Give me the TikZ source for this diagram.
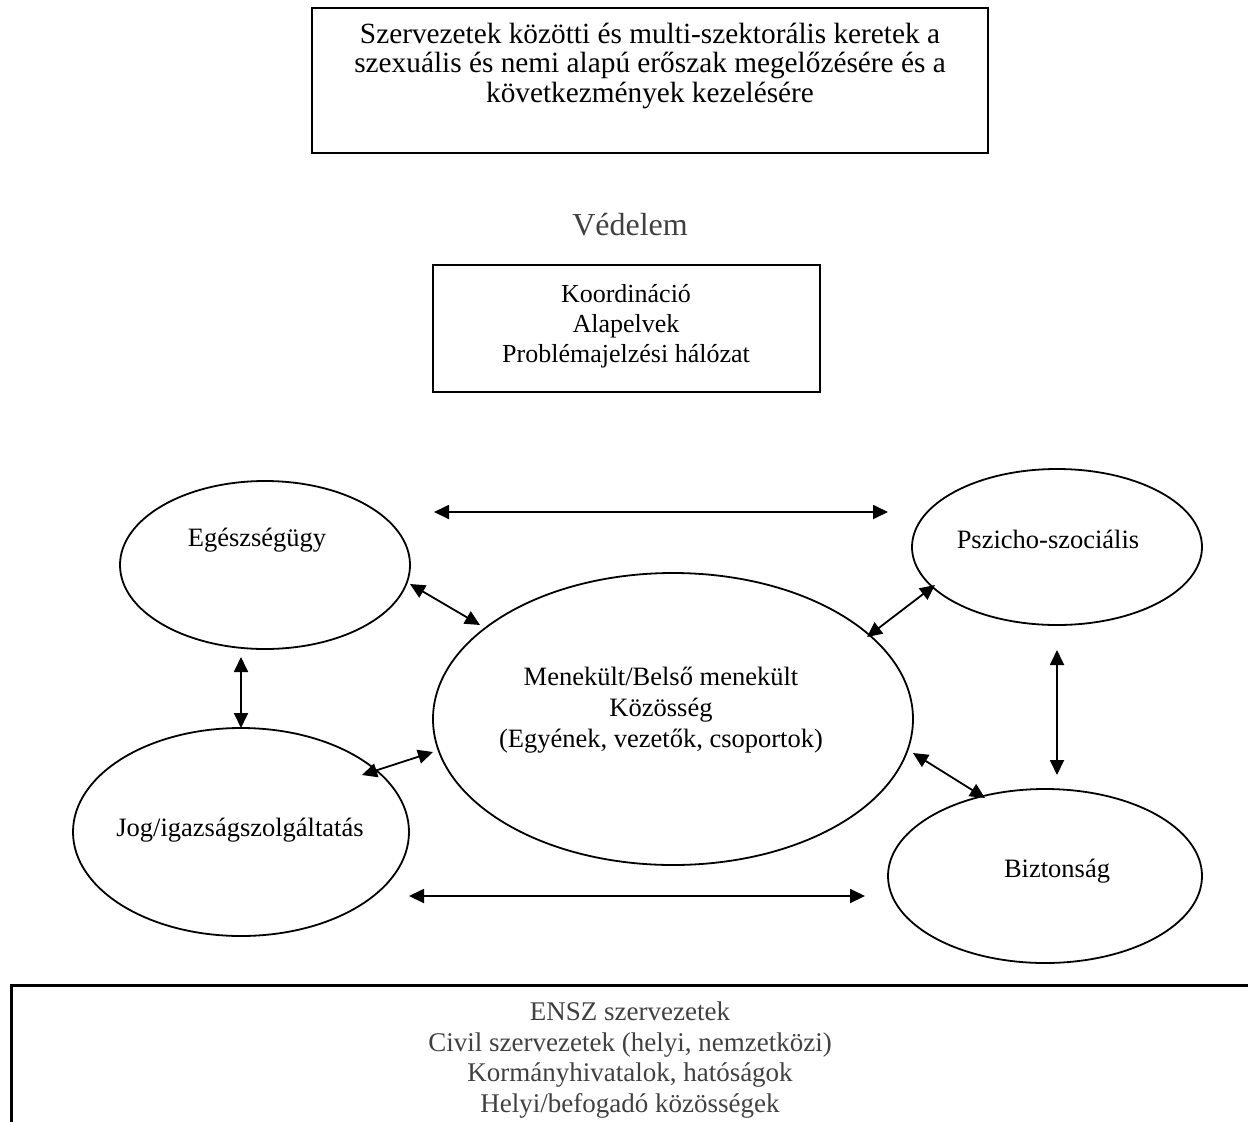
\documentclass[tikz,border=0pt]{standalone}
\usepackage{fontspec}
\setmainfont{Liberation Serif}
\usetikzlibrary{arrows.meta,shapes.geometric}
\definecolor{txtgray}{gray}{0.25}
\begin{document}
\begin{tikzpicture}[x=1pt,y=-1pt,
  box/.style={draw,line width=2pt,inner sep=0pt},
  oval/.style={draw,ellipse,line width=1.8pt,inner sep=0pt},
  lbl/.style={font=\fontsize{26.5}{31}\selectfont,align=center,anchor=base,inner sep=0pt},
  dbl/.style={{Triangle[length=15pt,width=14pt]}-{Triangle[length=15pt,width=14pt]},line width=1.8pt},
]
\useasboundingbox (0,0) rectangle (1248,1122);

% boxes (multi-line text nodes are placed at the baseline of their last line)
\node[box,minimum width=676pt,minimum height=145pt] (topbox) at (650,80.5) {};
\node[lbl,font=\fontsize{29.3}{29.5}\selectfont] (toptxt) at (650,102)
  {Szervezetek közötti és multi-szektorális keretek a\\szexuális és nemi alapú erőszak megelőzésére és a\\következmények kezelésére};

\node[lbl,font=\fontsize{32}{36}\selectfont,text=txtgray] (vedelem) at (630,235) {Védelem};

\node[box,minimum width=387pt,minimum height=127pt] (koordbox) at (626.5,328.5) {};
\node[lbl,font=\fontsize{26}{30}\selectfont] (koordtxt) at (626,362)
  {Koordináció\\Alapelvek\\Problémajelzési hálózat};

% ellipses
\node[oval,minimum width=290pt,minimum height=168pt] (egesz) at (265,565) {};
\node[lbl] (egesztxt) at (257,546) {Egészségügy};

\node[oval,minimum width=290pt,minimum height=156pt] (pszicho) at (1057,547) {};
\node[lbl] (pszichotxt) at (1048,548) {Pszicho-szociális};

\node[oval,minimum width=480pt,minimum height=292pt] (menekult) at (673,719) {};
\node[lbl] (menekulttxt) at (661,747)
  {Menekült/Belső menekült\\Közösség\\(Egyének, vezetők, csoportok)};

\node[oval,minimum width=336pt,minimum height=208pt] (jog) at (241,832) {};
\node[lbl] (jogtxt) at (240,836) {Jog/igazságszolgáltatás};

\node[oval,minimum width=314pt,minimum height=174pt] (bizt) at (1045,876) {};
\node[lbl] (bizttxt) at (1057,877) {Biztonság};

% bottom box (runs off the page)
\node[draw,line width=3pt,inner sep=0pt,minimum width=1259pt,minimum height=155pt] (bottombox) at (640.5,1062.5) {};
\node[lbl,font=\fontsize{27}{30.5}\selectfont,text=txtgray] (bottomtxt) at (630,1112)
  {ENSZ szervezetek\\Civil szervezetek (helyi, nemzetközi)\\Kormányhivatalok, hatóságok\\Helyi/befogadó közösségek};

% arrow end points
\coordinate (a1) at (434,512);  \coordinate (b1) at (888,512);
\coordinate (a2) at (409,896);  \coordinate (b2) at (865,896);
\coordinate (a3) at (410,584);  \coordinate (b3) at (480,625);
\coordinate (a4) at (362,775);  \coordinate (b4) at (433,752);
\coordinate (a5) at (935,585);  \coordinate (b5) at (867,637);
\coordinate (a6) at (913,753);  \coordinate (b6) at (985,798);
\coordinate (a7) at (241,657);  \coordinate (b7) at (241,728);
\coordinate (a8) at (1057,650); \coordinate (b8) at (1057,775);

\foreach \i in {1,...,8} \draw[dbl] (a\i) -- (b\i);
\end{tikzpicture}
\end{document}
